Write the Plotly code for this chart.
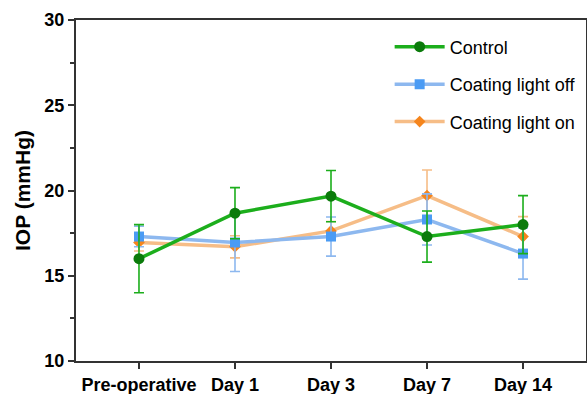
import plotly.graph_objects as go

# Time points and mean IOP (mmHg) with SD for each group
timepoints = ["Pre-operative", "Day 1", "Day 3", "Day 7", "Day 14"]

control_mean = [16.0, 18.67, 19.67, 17.3, 18.0]
control_sd = [2.0, 1.5, 1.5, 1.5, 1.7]

light_off_mean = [17.3, 16.95, 17.3, 18.3, 16.3]
light_off_sd = [0.6, 1.7, 1.15, 1.5, 1.5]

light_on_mean = [16.95, 16.7, 17.63, 19.7, 17.3]
light_on_sd = [0.5, 0.65, 0.55, 1.5, 1.17]

x_idx = list(range(len(timepoints)))

series = [
    # name, mean, sd, line colour, marker colour, symbol, size, legend rank
    ("Coating light on", light_on_mean, light_on_sd, "#f6bd87", "#f5851d", "diamond", 9, 3),
    ("Coating light off", light_off_mean, light_off_sd, "#8db8ef", "#4a9bf4", "square", 10, 2),
    ("Control", control_mean, control_sd, "#1cae1c", "#0b7b0b", "circle", 11, 1),
]

fig = go.Figure()
for name, mean, sd, lc, mc, sym, size, rank in series:
    fig.add_trace(go.Scatter(
        x=x_idx, y=mean, name=name, mode="lines+markers",
        legendgroup=name, legendrank=rank,
        line=dict(color=lc, width=3.5),
        marker=dict(color=mc, symbol=sym, size=size),
        error_y=dict(type="data", array=sd, visible=True, color=lc,
                     thickness=1.6, width=5),
    ))

axis_line = "#333333"
fig.update_layout(
    width=587, height=394,
    margin=dict(l=76, r=1, t=20, b=33),
    plot_bgcolor="white", paper_bgcolor="white",
    font=dict(family="Liberation Sans, Arial, sans-serif", color="black"),
    showlegend=True,
    legend=dict(
        x=0.615, y=0.975, xanchor="left", yanchor="top",
        traceorder="grouped",
        font=dict(size=18, color="black"),
        bgcolor="rgba(0,0,0,0)",
        itemwidth=50,
        tracegroupgap=11,
    ),
    xaxis=dict(
        range=[-0.656, 4.656], automargin=False,
        tickmode="array", tickvals=x_idx,
        ticktext=["<b>%s</b>" % t for t in timepoints],
        ticks="outside", ticklen=6, tickwidth=2, tickcolor=axis_line,
        showline=True, linecolor=axis_line, linewidth=2, mirror=True,
        showgrid=False, zeroline=False,
        tickfont=dict(size=18, color="black"),
    ),
    yaxis=dict(
        range=[10, 30], automargin=False,
        tickmode="array", tickvals=[10, 15, 20, 25, 30],
        ticktext=["<b>%d</b>" % v for v in [10, 15, 20, 25, 30]],
        ticks="outside", ticklen=6, tickwidth=2, tickcolor=axis_line,
        minor=dict(tickvals=[12.5, 17.5, 22.5, 27.5], ticks="outside",
                   ticklen=4, tickwidth=2, tickcolor=axis_line, showgrid=False),
        showline=True, linecolor=axis_line, linewidth=2, mirror=True,
        showgrid=False, zeroline=False,
        tickfont=dict(size=18, color="black"),
        title=dict(text="<b>IOP (mmHg)</b>", font=dict(size=21, color="black"),
                   standoff=8),
    ),
)

fig.write_html("out.html")
